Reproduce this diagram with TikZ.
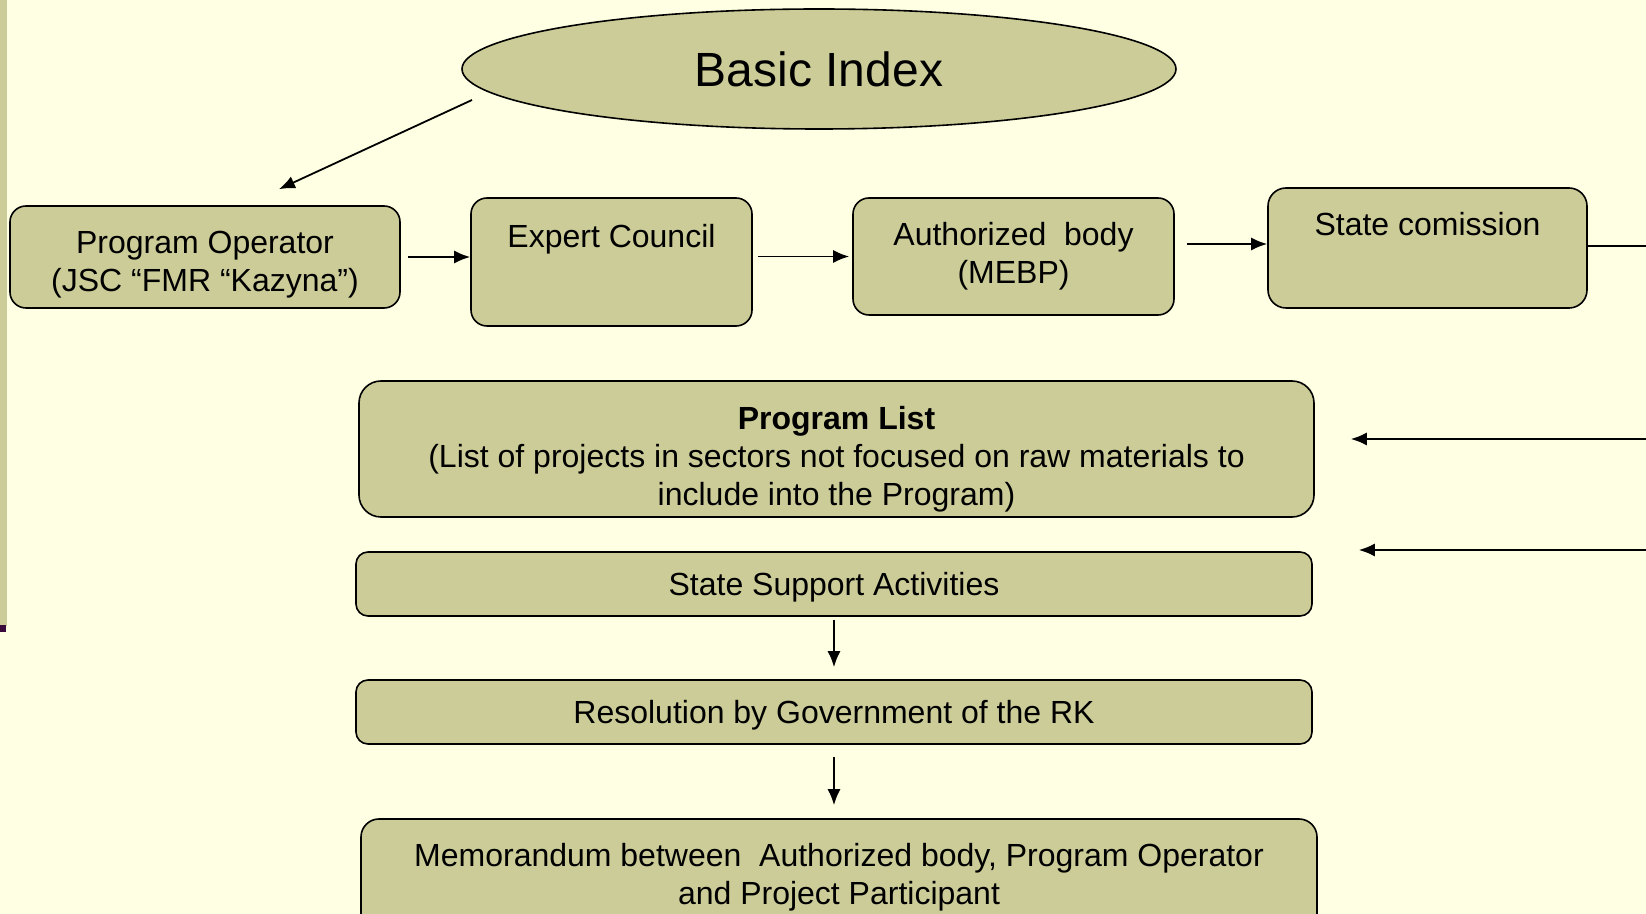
\documentclass[tikz,border=0pt]{standalone}
\usepackage{fontspec}
\setmainfont{Liberation Sans}
\usepackage{tikz}
\usetikzlibrary{calc}
\usetikzlibrary{arrows.meta}
\usetikzlibrary{shapes.geometric}
\definecolor{bgcol}{HTML}{FFFFE3}
\definecolor{boxcol}{HTML}{CCCC99}
\definecolor{markcol}{HTML}{3A0A3A}
\tikzset{>=latex}
\tikzstyle{box} = [rectangle, rounded corners=8pt, draw=black, line width=0.8pt, fill=boxcol, align=center, inner sep=0pt, font=\fontsize{16}{19}\selectfont]
\tikzstyle{arr} = [-{Latex[length=8pt,width=6.5pt]}, line width=0.9pt]

\begin{document}
\begin{tikzpicture}[x=0.5pt, y=-0.5pt]
\useasboundingbox (0,0) rectangle (1646,914);
\clip (0,0) rectangle (1646,914);
\fill [bgcol] (0,0) rectangle (1646,914);
\fill [boxcol] (0,0) rectangle (7,626);
\fill [markcol] (0,625) rectangle (6,632);
%\node [draw=none] at (820,20) {title};
\node [ellipse, draw=black, line width=0.8pt, fill=boxcol, minimum width=357pt, minimum height=60pt, inner sep=0, font=\fontsize{24}{28}\selectfont] (bi) at (819, 69) {Basic Index};
\node [box, minimum width=195pt, minimum height=51pt, text depth=0pt] (po) at (205, 257) {\rule{0pt}{15.8pt}Program Operator\\(JSC “FMR “Kazyna”)};
\node [box, minimum width=140.5pt, minimum height=64pt] (ec) at (611.5, 262) {Expert Council\\[1.7pt]\strut};
\node [box, minimum width=160.5pt, minimum height=58.5pt] (ab) at (1013.5, 256.5) {Authorized\ \ body\\(MEBP)};
\node [box, rounded corners=9pt, minimum width=159.5pt, minimum height=60pt] (sc) at (1427.5, 248) {State comission\\[-0.6pt]\strut};
\node [box, rounded corners=11pt, minimum width=477.5pt, minimum height=68pt, text depth=0pt] (pl) at (836.5, 449) {\rule{0pt}{19pt}\textbf{Program List}\\(List of projects in sectors not focused on raw materials to\\include into the Program)};
\node [box, rounded corners=6pt, minimum width=478pt, minimum height=32pt, text depth=0pt] (ssa) at (834, 584) {State Support Activities};
\node [box, rounded corners=6pt, minimum width=478pt, minimum height=32pt, text depth=0pt] (res) at (834, 712) {Resolution by Government of the RK};
\node [box, rounded corners=9pt, minimum width=478pt, minimum height=58pt] (memo) at (839, 877) {Memorandum between\ \ Authorized body, Program Operator\\and Project Participant};
\coordinate (bitail) at (472, 100);
\coordinate (scout) at (1646, 246);
\coordinate (plin) at (1646, 439);
\coordinate (ssain) at (1646, 550);
\draw [arr] (bitail) to ($(po.north)+(74,-16)$);
\draw [arr, shorten <=3.5pt] (po.east) to (ec.west |- po.east);
\draw [arr, shorten <=2.5pt, shorten >=1.5pt] (ec.east |- ab.west) to (ab.west);
\draw [arr, shorten <=6pt] (ab.east |- 0,244) to (sc.west |- 0,244);
\draw [line width=0.9pt] (sc.east |- scout) to (scout);
\draw [arr, shorten >=18pt] (plin) to (plin -| pl.east);
\draw [arr, shorten >=23pt] (ssain) to (ssain -| ssa.east);
\draw [arr, shorten <=1.5pt, shorten >=6pt] (ssa.south) to (res.north);
\draw [arr, shorten <=6pt, shorten >=6.5pt] (res.south) to (res.south |- memo.north);
\end{tikzpicture}
\end{document}
